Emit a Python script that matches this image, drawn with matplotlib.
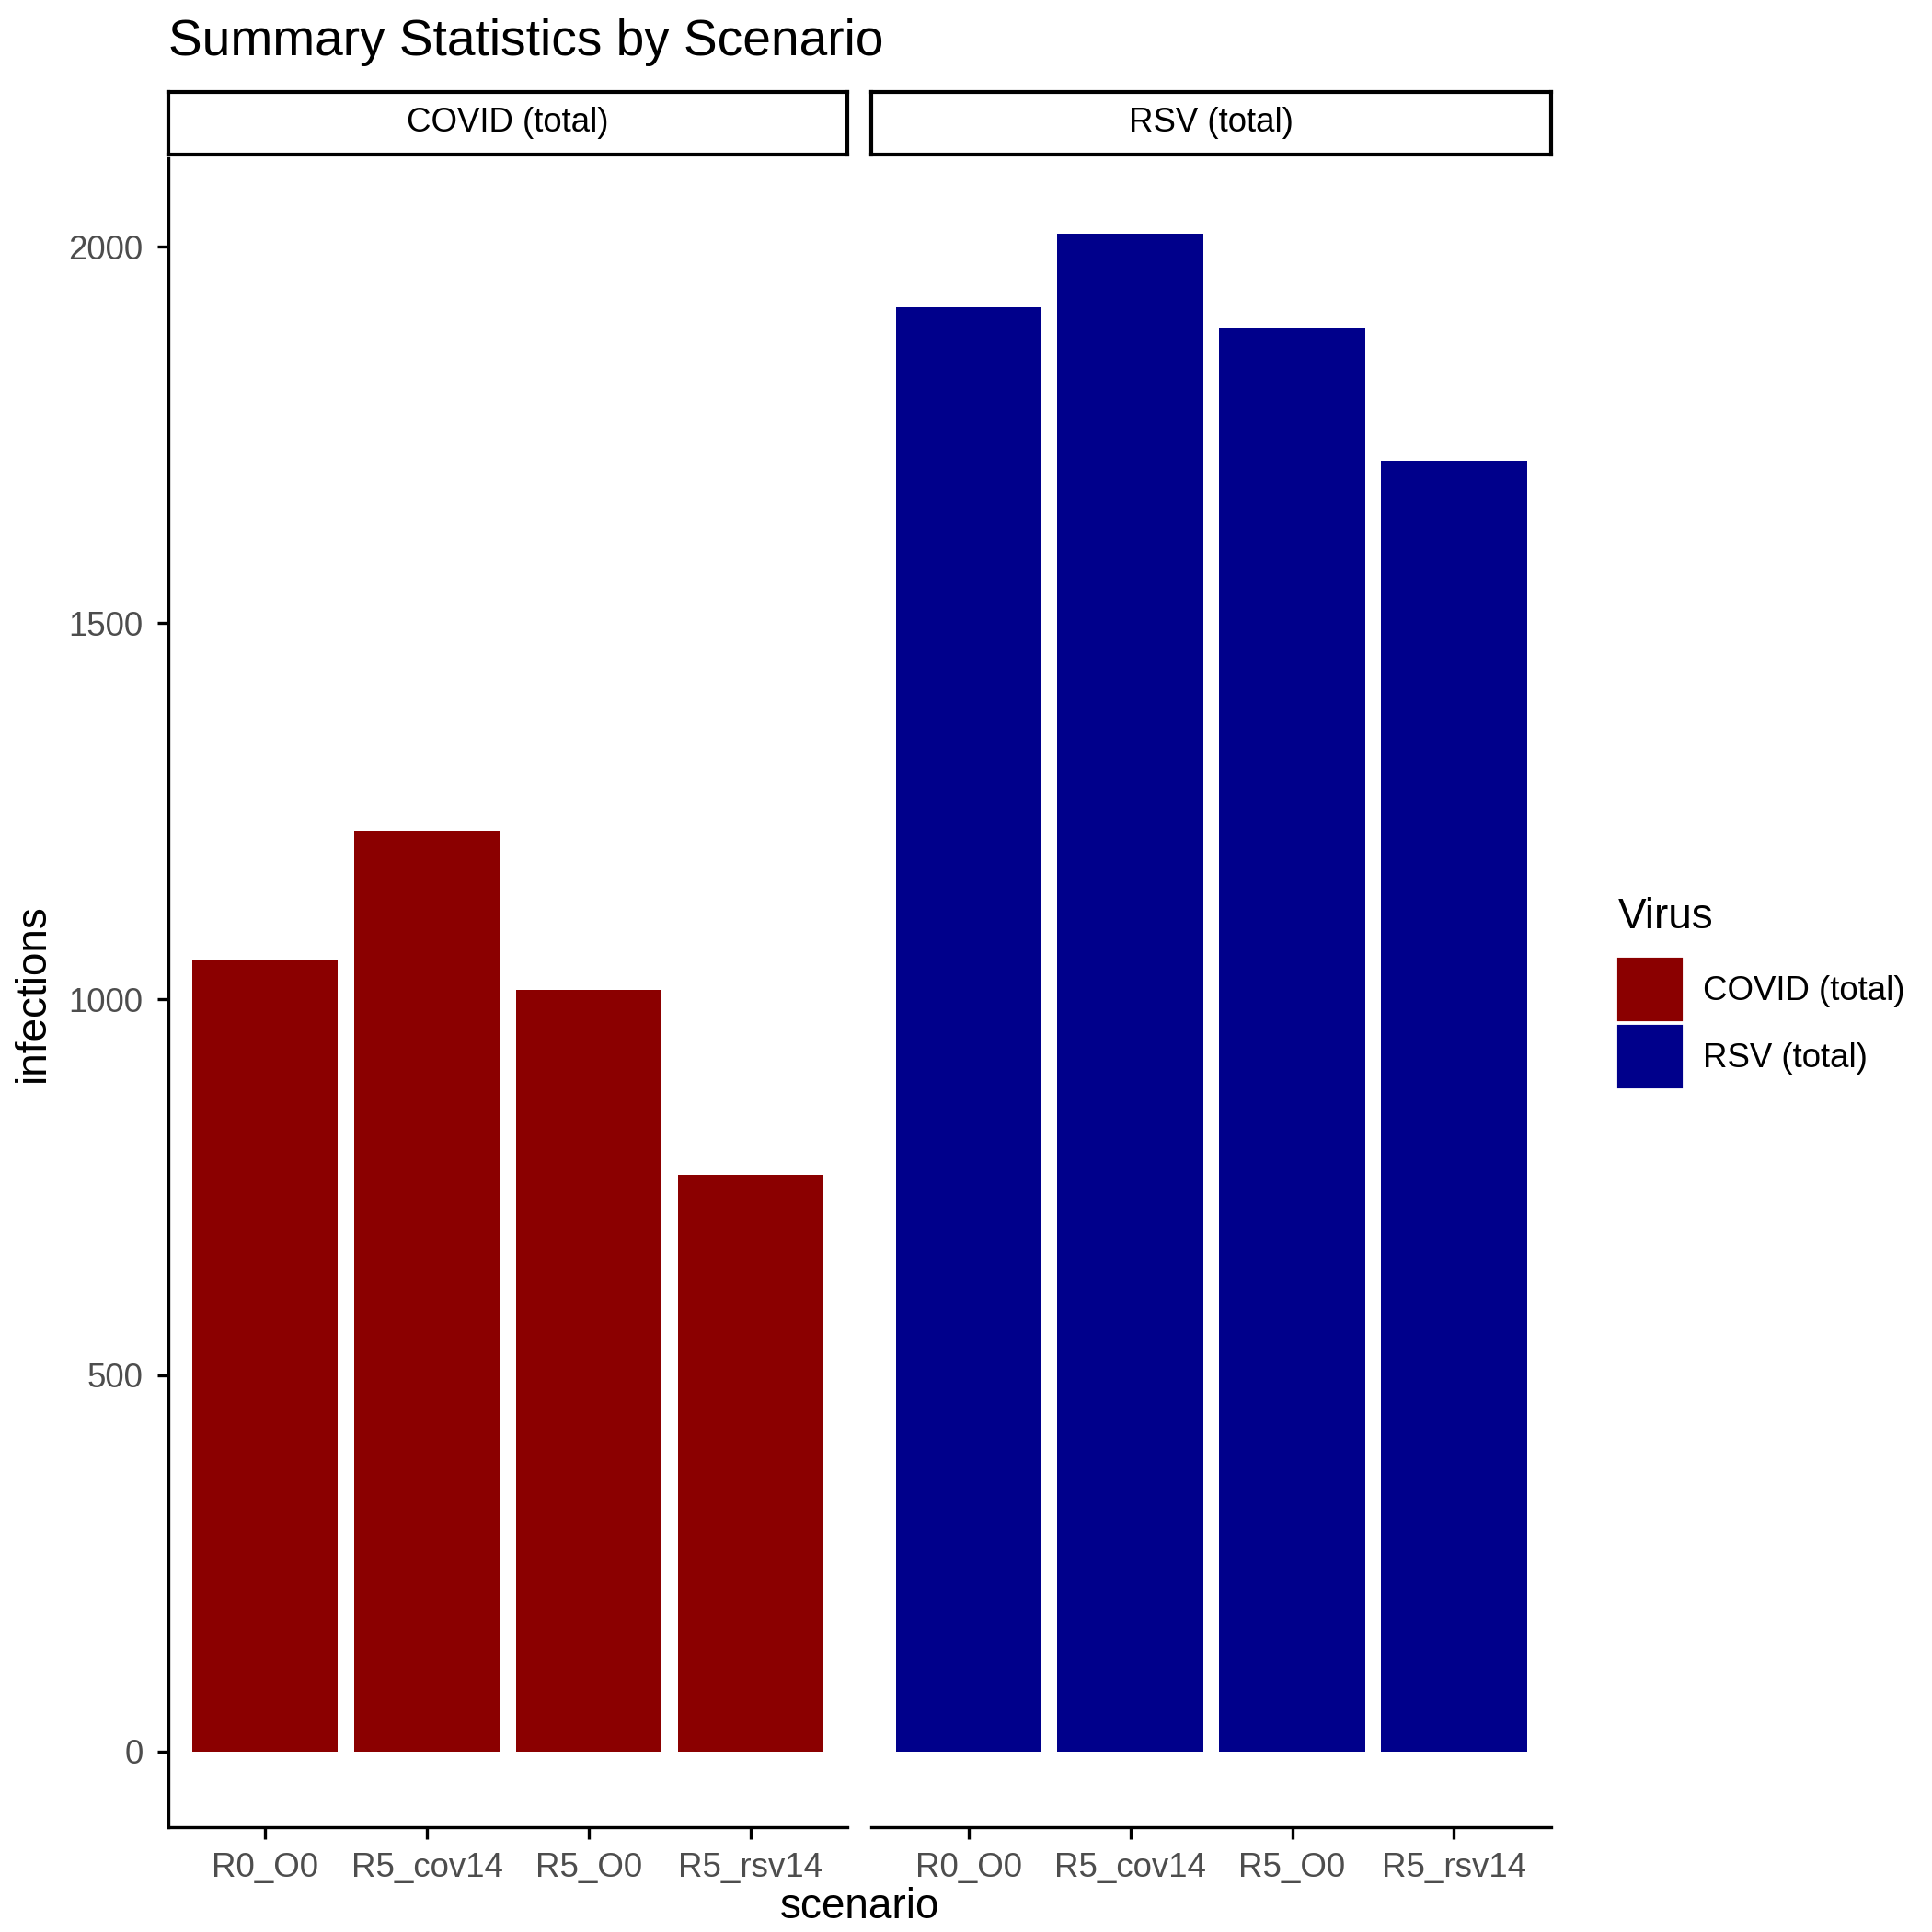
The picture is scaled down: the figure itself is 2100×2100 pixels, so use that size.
import matplotlib.pyplot as plt
from matplotlib.patches import Rectangle

plt.rcParams['font.family'] = ['Liberation Sans', 'DejaVu Sans']

scenarios = ['R0_O0', 'R5_cov14', 'R5_O0', 'R5_rsv14']
viruses = ['COVID (total)', 'RSV (total)']
covid = [1051, 1224, 1012, 767]
rsv = [1919, 2017, 1891, 1715]
values = {'COVID (total)': covid, 'RSV (total)': rsv}
colors = {'COVID (total)': '#8B0000', 'RSV (total)': '#00008B'}

fig = plt.figure(figsize=(7, 7), dpi=300)
W = 1552
def fx(px): return px / W
def fy(py): return 1 - py / W

panels = [(135, 681), (700, 1246)]
top, bottom = 127, 1468
ymax = max(max(covid), max(rsv))
ylim = (-0.05 * ymax, 1.05 * ymax)

for i, (v, (l, r)) in enumerate(zip(viruses, panels)):
    ax = fig.add_axes([fx(l), fy(bottom), fx(r - l), fy(top) - fy(bottom)])
    ax.bar(range(len(scenarios)), values[v], width=0.9, color=colors[v])
    ax.set_xlim(-0.6, len(scenarios) - 0.4)
    ax.set_ylim(*ylim)
    ax.set_xticks(range(len(scenarios)))
    ax.set_xticklabels(scenarios, fontsize=8.8, color='#4D4D4D')
    for s in ['top', 'right']:
        ax.spines[s].set_visible(False)
    ax.spines['left'].set_linewidth(0.8)
    ax.spines['bottom'].set_linewidth(0.8)
    ax.tick_params(length=3, width=0.8, labelsize=8.8, labelcolor='#4D4D4D')
    if i == 0:
        ax.set_yticks([0, 500, 1000, 1500, 2000])
        ax.set_ylabel('infections', fontsize=11)
    else:
        ax.spines['left'].set_visible(False)
        ax.set_yticks([])
    # strip
    sax = fig.add_axes([fx(l), fy(124), fx(r - l), fy(74) - fy(124)])
    sax.set_xticks([]); sax.set_yticks([])
    for s in sax.spines.values():
        s.set_linewidth(1.0)
    sax.text(0.5, 0.5, v, ha='center', va='center', fontsize=8.8, transform=sax.transAxes)

fig.text(fx((135 + 1246) / 2), fy(1532), 'scenario', ha='center', va='center', fontsize=11)
fig.text(fx(135), fy(34), 'Summary Statistics by Scenario', ha='left', va='center', fontsize=13.2)

# legend
fig.text(fx(1300), fy(737), 'Virus', ha='left', va='center', fontsize=11)
for j, v in enumerate(viruses):
    y0 = 771 + j * 54
    fig.patches.append(Rectangle((fx(1301), fy(y0 + 48)), fx(49), fy(y0) - fy(y0 + 48),
                                 transform=fig.transFigure, color=colors[v]))
    fig.text(fx(1368), fy(y0 + 25), v, ha='left', va='center', fontsize=8.8)

plt.savefig('out.png', dpi=300)
